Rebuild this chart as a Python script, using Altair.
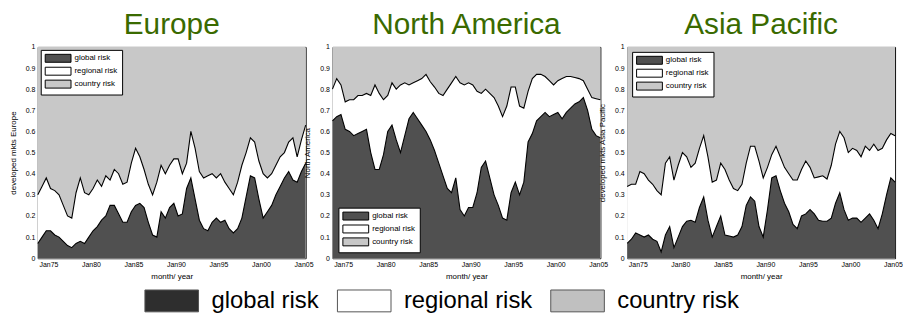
import altair as alt
import pandas as pd

FONT = "Liberation Sans"
GREEN = "#3a6a00"
DARK = "#505050"
LIGHT = "#c8c8c8"

components = ["global risk", "regional risk", "country risk"]
regions = ["Europe", "North America", "Asia Pacific"]
y_titles = ["developed mkts Europe", "North America", "developed mkts Asia Pacific"]
x_tick_years = [1975, 1980, 1985, 1990, 1995, 2000, 2005]
y_tick_values = [0, 0.1, 0.2, 0.3, 0.4, 0.5, 0.6, 0.7, 0.8, 0.9, 1]

# half-year sampling, Oct 1973 .. Apr 2005
start_year = 1973.75
times = [start_year + 0.5 * i for i in range(64)]

eu_global = [0.07, 0.10, 0.13, 0.13, 0.11, 0.10, 0.08, 0.06, 0.05, 0.07,
             0.08, 0.07, 0.10, 0.13, 0.15, 0.18, 0.20, 0.25, 0.25, 0.21,
             0.17, 0.17, 0.22, 0.25, 0.26, 0.24, 0.17, 0.11, 0.10, 0.22,
             0.19, 0.24, 0.26, 0.20, 0.21, 0.33, 0.38, 0.28, 0.18, 0.14,
             0.13, 0.17, 0.19, 0.17, 0.18, 0.14, 0.12, 0.14, 0.19, 0.29,
             0.39, 0.38, 0.28, 0.19, 0.22, 0.25, 0.30, 0.34, 0.38, 0.41,
             0.37, 0.36, 0.41, 0.45]
eu_total = [0.30, 0.34, 0.38, 0.33, 0.32, 0.30, 0.25, 0.20, 0.19, 0.31,
            0.38, 0.31, 0.30, 0.33, 0.37, 0.34, 0.39, 0.37, 0.42, 0.40,
            0.35, 0.36, 0.45, 0.52, 0.48, 0.42, 0.35, 0.30, 0.36, 0.44,
            0.40, 0.44, 0.47, 0.47, 0.40, 0.45, 0.60, 0.52, 0.41, 0.38,
            0.39, 0.40, 0.38, 0.40, 0.36, 0.33, 0.30, 0.36, 0.44, 0.50,
            0.57, 0.55, 0.46, 0.40, 0.38, 0.40, 0.44, 0.48, 0.50, 0.55,
            0.57, 0.48, 0.56, 0.63]

na_global = [0.65, 0.67, 0.68, 0.61, 0.60, 0.58, 0.59, 0.60, 0.61, 0.50,
             0.42, 0.42, 0.49, 0.60, 0.63, 0.56, 0.50, 0.58, 0.66, 0.69,
             0.66, 0.63, 0.60, 0.56, 0.51, 0.45, 0.39, 0.33, 0.31, 0.38,
             0.23, 0.20, 0.24, 0.24, 0.31, 0.43, 0.46, 0.38, 0.30, 0.25,
             0.19, 0.18, 0.31, 0.36, 0.30, 0.36, 0.55, 0.59, 0.65, 0.67,
             0.69, 0.67, 0.68, 0.69, 0.66, 0.69, 0.71, 0.73, 0.74, 0.76,
             0.70, 0.61, 0.58, 0.57]
na_total = [0.80, 0.85, 0.82, 0.74, 0.75, 0.75, 0.77, 0.77, 0.78, 0.77,
            0.82, 0.78, 0.75, 0.77, 0.83, 0.80, 0.82, 0.83, 0.82, 0.83,
            0.84, 0.85, 0.87, 0.835, 0.81, 0.78, 0.77, 0.80, 0.83, 0.86,
            0.83, 0.82, 0.83, 0.82, 0.79, 0.78, 0.80, 0.78, 0.76, 0.72,
            0.67, 0.72, 0.81, 0.81, 0.72, 0.71, 0.79, 0.85, 0.87, 0.87,
            0.86, 0.84, 0.82, 0.84, 0.85, 0.86, 0.86, 0.855, 0.85, 0.84,
            0.80, 0.76, 0.755, 0.75]

ap_global = [0.07, 0.09, 0.12, 0.11, 0.10, 0.11, 0.09, 0.08, 0.03, 0.11,
             0.15, 0.05, 0.10, 0.15, 0.175, 0.18, 0.17, 0.24, 0.29, 0.18,
             0.10, 0.15, 0.20, 0.11, 0.105, 0.10, 0.11, 0.15, 0.25, 0.29,
             0.27, 0.15, 0.10, 0.23, 0.38, 0.39, 0.32, 0.26, 0.22, 0.16,
             0.14, 0.20, 0.21, 0.23, 0.21, 0.18, 0.175, 0.175, 0.19, 0.26,
             0.31, 0.23, 0.18, 0.19, 0.19, 0.17, 0.19, 0.21, 0.18, 0.14,
             0.21, 0.30, 0.38, 0.36]
ap_total = [0.34, 0.35, 0.35, 0.41, 0.40, 0.37, 0.35, 0.32, 0.30, 0.45,
            0.48, 0.37, 0.44, 0.50, 0.48, 0.43, 0.45, 0.52, 0.58, 0.48,
            0.36, 0.37, 0.45, 0.42, 0.37, 0.33, 0.32, 0.35, 0.45, 0.53,
            0.53, 0.46, 0.38, 0.43, 0.49, 0.53, 0.48, 0.43, 0.40, 0.37,
            0.37, 0.42, 0.46, 0.43, 0.38, 0.385, 0.39, 0.375, 0.44, 0.54,
            0.60, 0.57, 0.50, 0.52, 0.51, 0.48, 0.53, 0.51, 0.54, 0.51,
            0.52, 0.56, 0.59, 0.58]

series = {
    "Europe": (eu_global, eu_total),
    "North America": (na_global, na_total),
    "Asia Pacific": (ap_global, ap_total),
}

rows = []
for region, (g, tot) in series.items():
    for t, gv, tv in zip(times, g, tot):
        rows.append({"region": region, "t": t, "component": "global risk", "top": gv})
        rows.append({"region": region, "t": t, "component": "regional risk", "top": tv})
        rows.append({"region": region, "t": t, "component": "country risk", "top": 1.0})
df = pd.DataFrame(rows)


def panel(region, ytitle, legend_orient, legend_offset):
    color = alt.Color(
        "component:N",
        scale=alt.Scale(domain=components, range=[DARK, "white", LIGHT]),
        legend=alt.Legend(
            title=None, orient=legend_orient, offset=legend_offset,
            fillColor="white", strokeColor="black", padding=4, cornerRadius=0,
            labelFontSize=8, labelColor="black", labelFont=FONT,
            symbolType="M-1,-1H5.5V1H-1Z", symbolSize=64,
            symbolStrokeColor="black", symbolStrokeWidth=1, symbolOpacity=1,
            labelOffset=21, rowPadding=0, labelLimit=200,
        ),
    )
    x = alt.X(
        "t:Q",
        scale=alt.Scale(domain=[times[0], times[-1]], nice=False, zero=False),
        axis=alt.Axis(
            values=x_tick_years,
            labelExpr="'Jan' + slice(toString(datum.value), 2)",
            title="month/ year", grid=False, ticks=False, domain=False,
            labelFontSize=7, titleFontSize=8, labelPadding=2, titlePadding=5,
            labelFlush=False, labelOverlap=False,
        ),
    )
    y = alt.Y(
        "top:Q", stack=None,
        scale=alt.Scale(domain=[0, 1], nice=False),
        axis=alt.Axis(
            values=y_tick_values, format="~g", title=ytitle, grid=False,
            ticks=False, domain=False, labelFontSize=7, titleFontSize=8,
            labelPadding=3, titlePadding=8, labelFlush=False,
        ),
    )
    base = alt.Chart(df).transform_filter(alt.datum.region == region)
    country = base.transform_filter(alt.datum.component == "country risk").mark_area(opacity=1).encode(x=x, y=y, color=color)
    regional = base.transform_filter(alt.datum.component == "regional risk").mark_area(opacity=1).encode(x=x, y=y, color=color)
    regional_line = base.transform_filter(alt.datum.component == "regional risk").mark_line(color="black", strokeWidth=1.1).encode(x=x, y=y)
    glob = base.transform_filter(alt.datum.component == "global risk").mark_area(opacity=1).encode(x=x, y=y, color=color)
    glob_line = base.transform_filter(alt.datum.component == "global risk").mark_line(color="black", strokeWidth=1.1).encode(x=x, y=y)
    return alt.layer(country, regional, regional_line, glob, glob_line).properties(
        width=270, height=213, title=region
    )


p1 = panel("Europe", y_titles[0], "top-left", 3)
p2 = panel("North America", y_titles[1], "bottom-left", 6)
p3 = panel("Asia Pacific", y_titles[2], "top-left", 5)

top = alt.hconcat(p1, p2, p3, spacing=27, bounds="flush").resolve_scale(color="independent")

legend_df = pd.DataFrame({"component": components})
legend_chart = alt.Chart(legend_df).mark_rect(opacity=0).encode(
    color=alt.Color(
        "component:N",
        scale=alt.Scale(domain=components, range=["#2e2e2e", "white", "#c0c0c0"]),
        legend=alt.Legend(
            title=None, orient="none", legendX=107, legendY=6,
            direction="horizontal", columns=3, labelFontSize=24,
            labelColor="black", labelFont=FONT,
            symbolType="M-1,-1H3.91V1H-1Z", symbolSize=484,
            symbolStrokeColor="#555555", symbolStrokeWidth=1, symbolOpacity=1,
            labelOffset=44, columnPadding=16, padding=0, labelLimit=300,
        ),
    )
).properties(width=860, height=1, view=alt.ViewBackground(stroke="transparent"))

chart = (
    alt.vconcat(top, legend_chart, spacing=1)
    .resolve_scale(color="independent")
    .properties(padding=0)
    .configure_view(stroke="black", strokeWidth=1)
    .configure_axis(labelFont=FONT, titleFont=FONT, labelColor="black",
                    titleColor="black", titleFontWeight="normal")
    .configure_title(font=FONT, fontSize=30, color=GREEN, fontWeight="normal",
                     anchor="middle", baseline="alphabetic", offset=3)
)

chart.save("out.html", embed_options={"renderer": "svg", "actions": False})
